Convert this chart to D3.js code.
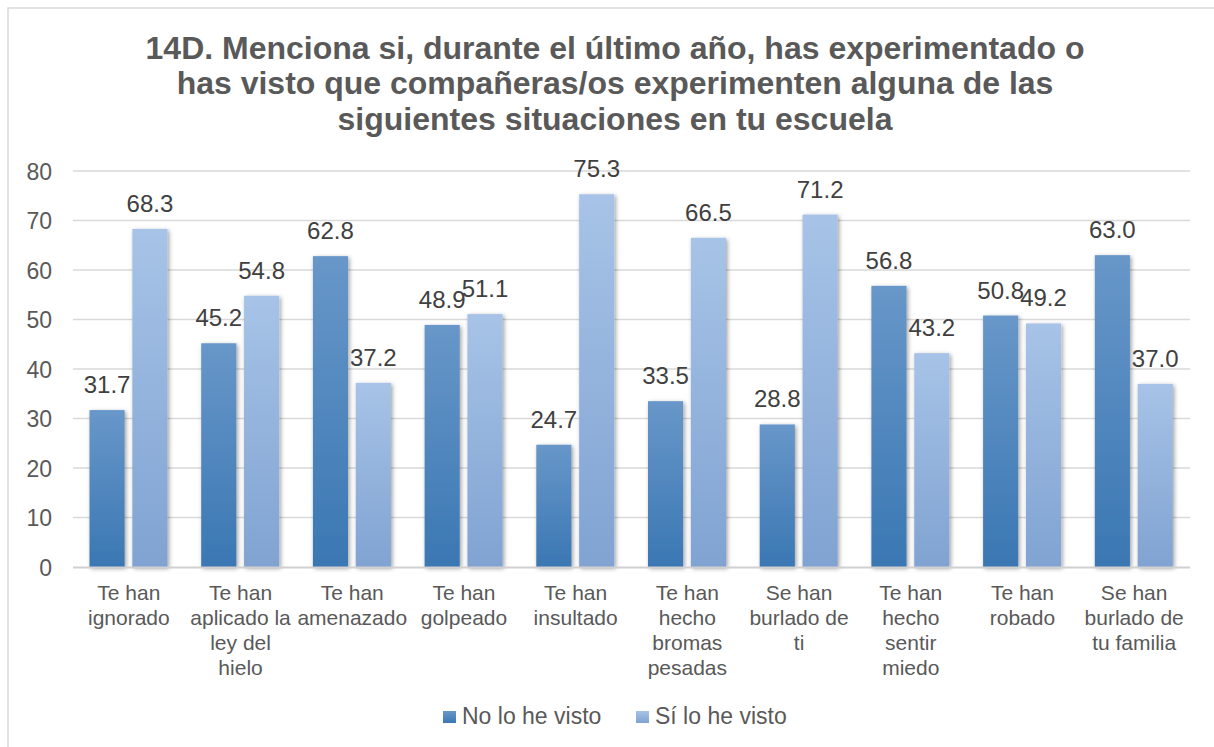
<!DOCTYPE html>
<html>
<head>
<meta charset="utf-8">
<script src="https://cdn.jsdelivr.net/npm/d3@7"></script>
<style>
  html, body { margin: 0; padding: 0; background: #fff; }
  svg { display: block; font-family: "Liberation Sans", Arial, sans-serif; }
</style>
</head>
<body>
<svg id="chart" width="1214" height="747"></svg>
<script>
const titleLines = [
  "14D. Menciona si, durante el último año, has experimentado o",
  "has visto que compañeras/os experimenten alguna de las",
  "siguientes situaciones en tu escuela"
];
const categories = [
  "Te han\nignorado",
  "Te han\naplicado la\nley del\nhielo",
  "Te han\namenazado",
  "Te han\ngolpeado",
  "Te han\ninsultado",
  "Te han\nhecho\nbromas\npesadas",
  "Se han\nburlado de\nti",
  "Te han\nhecho\nsentir\nmiedo",
  "Te han\nrobado",
  "Se han\nburlado de\ntu familia"
];
const seriesNames = ["No lo he visto", "Sí lo he visto"];
const noVisto = [31.7, 45.2, 62.8, 48.9, 24.7, 33.5, 28.8, 56.8, 50.8, 63.0];
const siVisto = [68.3, 54.8, 37.2, 51.1, 75.3, 66.5, 71.2, 43.2, 49.2, 37.0];
const yTicks = [0, 10, 20, 30, 40, 50, 60, 70, 80];

const svg = d3.select("#chart");
const W = 1214, H = 747;
svg.append("rect").attr("width", W).attr("height", H).attr("fill", "#fff");

const defs = svg.append("defs");
function grad(id, top, bottom) {
  const g = defs.append("linearGradient").attr("id", id)
    .attr("x1", 0).attr("y1", 0).attr("x2", 0).attr("y2", 1);
  g.append("stop").attr("offset", "0%").attr("stop-color", top);
  g.append("stop").attr("offset", "100%").attr("stop-color", bottom);
}
grad("gDark", "#6897c9", "#3a77b3");
grad("gLight", "#a7c3e7", "#80a3d2");
const f = defs.append("filter").attr("id", "shadow")
  .attr("x", "-30%").attr("y", "-10%").attr("width", "160%").attr("height", "120%");
f.append("feDropShadow").attr("dx", 1.5).attr("dy", 1.5).attr("stdDeviation", 2.2)
  .attr("flood-color", "#000").attr("flood-opacity", 0.38);

// frame
svg.append("rect").attr("x", 8).attr("y", 8).attr("width", 1250).attr("height", 800)
  .attr("fill", "none").attr("stroke", "#d9d9d9").attr("stroke-width", 1.5);

// title
svg.append("g").selectAll("text").data(titleLines).join("text")
  .attr("x", 615).attr("y", (d, i) => 58.5 + i * 35.5)
  .attr("text-anchor", "middle")
  .attr("font-size", 32).attr("font-weight", "bold").attr("fill", "#595959")
  .text(d => d);

const left = 73, right = 1190, y0 = 567, yTop = 171;
const y = d3.scaleLinear().domain([0, 80]).range([y0, yTop]);
const x0 = d3.scaleBand().domain(d3.range(categories.length)).range([left, right]).padding(0);
const x1 = d3.scaleBand().domain([0, 1]).range([16.5, 94.5]).paddingInner(0.18);

// gridlines
svg.append("g").selectAll("line").data(yTicks.filter(t => t > 0)).join("line")
  .attr("x1", left).attr("x2", right)
  .attr("y1", d => y(d)).attr("y2", d => y(d))
  .attr("stroke", "#d9d9d9").attr("stroke-width", 1.5);

// y axis labels
const yAxis = d3.axisLeft(y).tickValues(yTicks).tickSize(0).tickPadding(0);
const yg = svg.append("g").attr("transform", `translate(52,0)`).call(yAxis);
yg.select(".domain").remove();
yg.selectAll("text").attr("font-size", 23).attr("fill", "#595959")
  .attr("font-family", "Liberation Sans, Arial, sans-serif").attr("dy", "0.36em");

// bars
const series = [noVisto, siVisto];
const fills = ["url(#gDark)", "url(#gLight)"];
const groups = svg.append("g").selectAll("g").data(categories.map((c, i) => i)).join("g")
  .attr("transform", i => `translate(${x0(i)},0)`);
groups.selectAll("rect").data(i => series.map((s, k) => ({k, v: s[i]}))).join("rect")
  .attr("x", d => x1(d.k)).attr("width", x1.bandwidth())
  .attr("y", d => y(d.v)).attr("height", d => y(0) - y(d.v))
  .attr("fill", d => fills[d.k]).attr("filter", "url(#shadow)");

// axis line
svg.append("line").attr("x1", left).attr("x2", right).attr("y1", y0 + 0.5).attr("y2", y0 + 0.5)
  .attr("stroke", "#d0d0d0").attr("stroke-width", 2);

// data labels
groups.selectAll("text.val").data(i => series.map((s, k) => ({k, v: s[i]}))).join("text")
  .attr("class", "val")
  .attr("x", d => x1(d.k) + x1.bandwidth() / 2)
  .attr("y", d => y(d.v) - 17)
  .attr("text-anchor", "middle").attr("font-size", 24).attr("fill", "#404040")
  .text(d => d.v.toFixed(1));

// category labels
const xAxis = d3.axisBottom(x0).tickSize(0).tickFormat(() => "");
const xg = svg.append("g").attr("transform", `translate(0,${y0})`).call(xAxis);
xg.select(".domain").remove();
xg.selectAll(".tick").each(function(i) {
  const t = d3.select(this).append("text")
    .attr("text-anchor", "middle").attr("font-size", 21).attr("fill", "#595959")
    .attr("font-family", "Liberation Sans, Arial, sans-serif");
  categories[i].split("\n").forEach((line, j) => {
    t.append("tspan").attr("x", 0).attr("y", 33 + j * 25).text(line);
  });
});

// legend
const legendX = [443, 636];
const lg = svg.append("g").selectAll("g").data(seriesNames).join("g")
  .attr("transform", (d, i) => `translate(${legendX[i]},711)`);
lg.append("rect").attr("width", 13).attr("height", 12)
  .attr("fill", (d, i) => fills[i]);
lg.append("text").attr("x", 19).attr("y", 12.5)
  .attr("font-size", 23).attr("fill", "#595959").text(d => d);
</script>
</body>
</html>
